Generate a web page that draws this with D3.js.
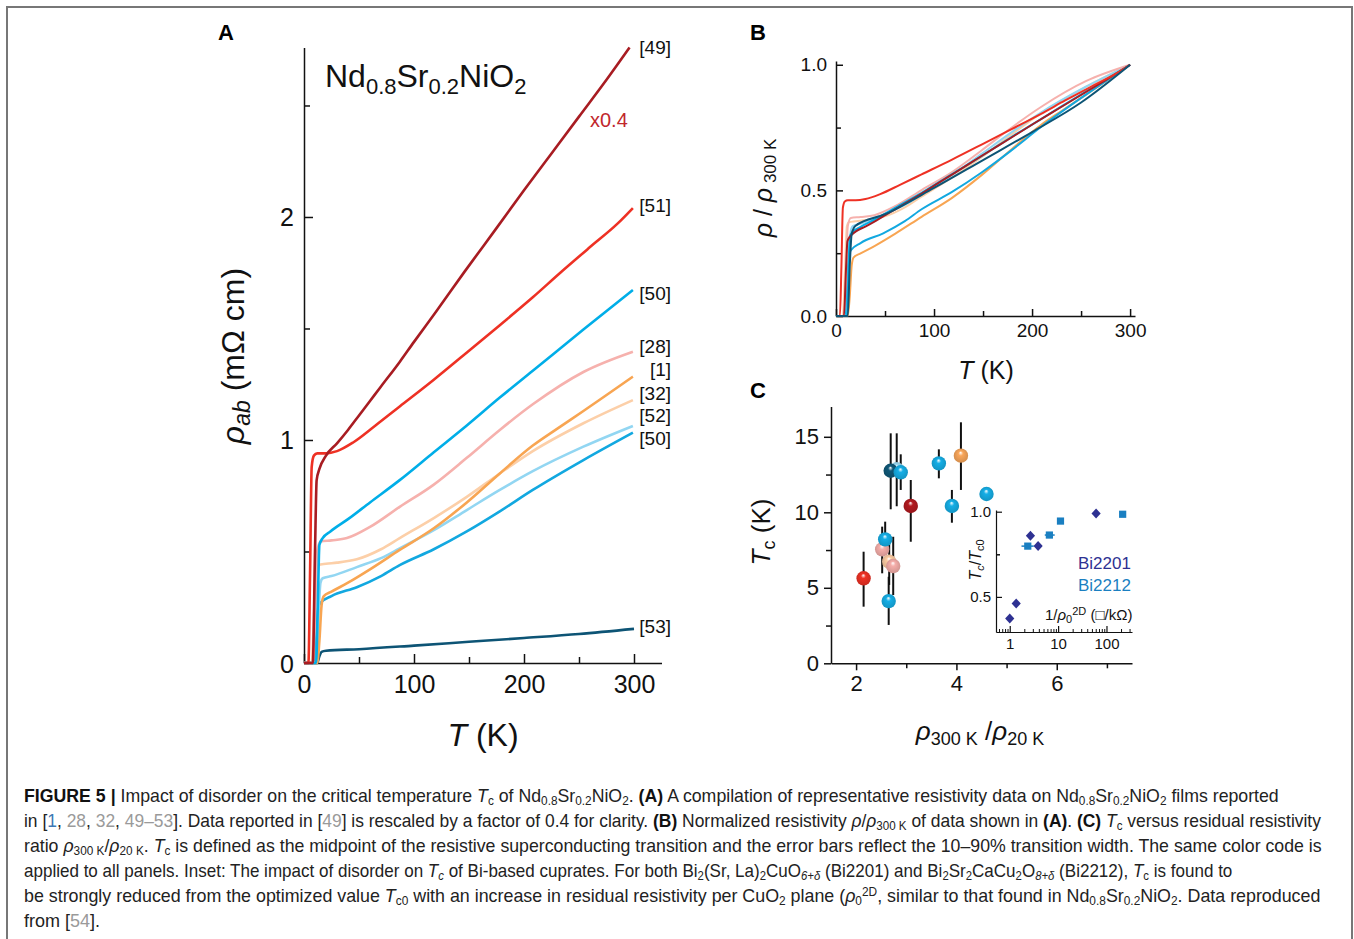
<!DOCTYPE html>
<html>
<head>
<meta charset="utf-8">
<script src="https://cdn.jsdelivr.net/npm/d3@7"></script>
<style>
  body { margin: 0; background: #fff; }
  svg { font-family: "Liberation Sans", Arial, Helvetica, sans-serif; }
</style>
</head>
<body>
<div id="container"></div>
<script>
// ---- panel A: rho_ab (mOhm cm) vs T (K) ----
let t49 = [0, 8, 10, 11.5, 14, 20, 30, 40, 50, 60, 70, 87, 100, 120, 146, 175, 200, 225, 250, 275, 296];
let r49 = [0, 0, 0.5, 0.82, 0.87, 0.93, 0.985, 1.045, 1.11, 1.175, 1.24, 1.35, 1.44, 1.575, 1.755, 1.95, 2.12, 2.285, 2.45, 2.615, 2.76];
let t51 = [0, 4, 5.5, 7, 9, 12, 20, 30, 45, 65, 87, 118, 150, 178, 208, 233, 260, 285, 299];
let r51 = [0, 0, 0.4, 0.88, 0.93, 0.94, 0.94, 0.95, 0.99, 1.065, 1.15, 1.27, 1.40, 1.515, 1.64, 1.75, 1.865, 1.97, 2.04];
let t50a = [0, 11, 12.5, 14, 17, 24, 40, 60, 87, 118, 148, 178, 208, 254, 299];
let r50a = [0, 0, 0.25, 0.53, 0.56, 0.59, 0.645, 0.72, 0.82, 0.945, 1.065, 1.19, 1.31, 1.495, 1.673];
let t28 = [0, 8, 10, 12, 15, 25, 39, 60, 87, 118, 148, 178, 208, 254, 299];
let r28 = [0, 0, 0.2, 0.5, 0.545, 0.55, 0.56, 0.61, 0.70, 0.80, 0.92, 1.045, 1.16, 1.305, 1.396];
let t1 = [0, 12, 14, 16, 18, 25, 40, 60, 87, 118, 148, 178, 208, 230, 254, 299];
let r1 = [0, 0, 0.1, 0.26, 0.30, 0.32, 0.36, 0.42, 0.507, 0.604, 0.72, 0.85, 0.975, 1.05, 1.13, 1.284];
let t32 = [0, 7, 9, 11, 13, 20, 30, 48, 70, 87, 118, 148, 178, 208, 254, 299];
let r32 = [0, 0, 0.2, 0.42, 0.44, 0.445, 0.45, 0.465, 0.51, 0.56, 0.65, 0.745, 0.85, 0.95, 1.075, 1.179];
let t52 = [0, 11, 13, 15, 17, 25, 48, 70, 87, 118, 148, 178, 208, 254, 299];
let r52 = [0, 0, 0.2, 0.36, 0.38, 0.39, 0.43, 0.47, 0.514, 0.596, 0.686, 0.776, 0.86, 0.97, 1.063];
let t50b = [0, 9, 11, 13, 15, 25, 48, 70, 87, 118, 148, 178, 208, 254, 299];
let r50b = [0, 0, 0.1, 0.25, 0.27, 0.30, 0.34, 0.39, 0.439, 0.51, 0.59, 0.68, 0.776, 0.91, 1.033];
let t53 = [0, 12, 14, 16, 20, 50, 100, 150, 200, 250, 300];
let r53 = [0, 0, 0.03, 0.05, 0.055, 0.062, 0.078, 0.095, 0.112, 0.13, 0.153];

let refs = ["[49]", "[51]", "[50]", "[28]", "[1]", "[32]", "[52]", "[50]", "[53]"];
let lineColors = ["#a81c22", "#ee3124", "#00aee8", "#f6b1ad", "#f8a552", "#fccfa8", "#92d6f2", "#12a8e0", "#0d5475"];

// ---- panel C: Tc vs rho300/rho20, with 10-90% bars ----
let cRatio = [2.15, 2.52, 2.58, 2.66, 2.74, 2.65, 2.81, 2.69, 2.89, 3.09, 3.65, 3.91, 4.09, 4.60];
let cTc    = [5.63, 7.55, 8.21, 6.73, 6.44, 4.12, 12.85, 12.75, 12.65, 10.42, 13.24, 10.42, 13.75, 11.21];
let cLow   = [3.75, 5.96, 7.28, 5.19, 4.52, 2.54, 10.4, 10.2, 11.48, 8.05, 12.25, 9.31, 11.48, null];
let cHigh  = [7.39, 9.05, 9.38, 8.28, 8.38, 5.73, 15.23, 15.23, 13.84, 12.14, 14.17, 11.48, 15.96, null];
let cKind  = ["red", "pink", "blue", "peach", "pink", "blue", "lightblue", "navy", "blue", "darkred", "blue", "blue", "orange", "blue"];
let dotColors = {darkred: "#b2191f", red: "#ee3124", blue: "#15aee6", pink: "#f5aeaa", orange: "#f9a65a", peach: "#fccca3", lightblue: "#9ad8f2", navy: "#0f5878"};

// ---- inset: Tc/Tc0 vs 1/rho0^2D ----
let bi2201X = [1.0, 1.36, 2.68, 3.86, 61];
let bi2201Y = [0.373, 0.461, 0.859, 0.798, 0.99];
let bi2212X = [2.36, 6.6, 11.2, 216];
let bi2212Y = [0.798, 0.863, 0.945, 0.985];
let bi2212Lo = [1.75, 5.3, null, null];
let bi2212Hi = [3.13, 8.5, null, null];

let svg = d3.select('#container')
    .append("svg")
    .attr("width", 1354)
    .attr("height", 939);

svg.append("rect")
    .attr("x", 7).attr("y", 7).attr("width", 1345).attr("height", 950)
    .attr("fill", "none").attr("stroke", "#777").attr("stroke-width", 2);

let seriesT = [t49, t51, t50a, t28, t1, t32, t52, t50b, t53];
let seriesR = [r49, r51, r50a, r28, r1, r32, r52, r50b, r53];
let series = refs.map((ref, i) => ({
    ref: ref, color: lineColors[i],
    pts: seriesT[i].map((t, j) => [t, seriesR[i][j]])
}));
let drawOrder = [8, 7, 6, 5, 4, 3, 2, 1, 0];

function styleAxis(g, size) {
    g.attr("font-size", size)
        .attr("font-family", '"Liberation Sans", Arial, sans-serif');
    g.selectAll("line,path").attr("stroke", "#111").attr("stroke-width", 1.5);
    g.selectAll("text").attr("fill", "#111");
}

function panelLetter(txt, x, y) {
    svg.append("text").attr("x", x).attr("y", y)
        .attr("font-size", 22).attr("font-weight", "bold").text(txt);
}

// ================= panel A =================
let xA = d3.scaleLinear().domain([0, 325]).range([304, 661.5]);
let yA = d3.scaleLinear().domain([0, 2.76]).range([663, 47.5]);

let gAx = svg.append("g").attr("transform", "translate(0,663)")
    .call(d3.axisBottom(xA).tickValues([0, 100, 200, 300]).tickFormat(d3.format("d")).tickSize(-9).tickSizeOuter(0).tickPadding(12));
styleAxis(gAx, 25);
let gAxm = svg.append("g").attr("transform", "translate(0,663)")
    .call(d3.axisBottom(xA).tickValues([50, 150, 250]).tickSize(-6).tickFormat(""));
styleAxis(gAxm, 10);
gAxm.select(".domain").remove();

let gAy = svg.append("g").attr("transform", "translate(304,0)")
    .call(d3.axisLeft(yA).tickValues([0, 1, 2]).tickFormat(d3.format("d")).tickSize(-9).tickSizeOuter(0).tickPadding(10));
styleAxis(gAy, 25);
gAy.selectAll("text").attr("dy", "0.36em");
let gAym = svg.append("g").attr("transform", "translate(304,0)")
    .call(d3.axisLeft(yA).tickValues([0.5, 1.5, 2.5]).tickSize(-6).tickFormat(""));
styleAxis(gAym, 10);
gAym.select(".domain").remove();

let lineA = d3.line().x(d => xA(d[0])).y(d => yA(d[1])).curve(d3.curveMonotoneX);
svg.append("g").selectAll("path")
    .data(drawOrder.map(i => series[i]))
    .enter()
    .append("path")
    .attr("fill", "none")
    .attr("stroke", d => d.color)
    .attr("stroke-width", 2.6)
    .attr("stroke-linejoin", "round")
    .attr("d", d => lineA(d.pts));

// reference labels, staggered by hand like the original
let labelY = [47, 205, 293, 346, 369, 393, 415, 438, 626];
svg.append("g").selectAll("text")
    .data(series)
    .enter()
    .append("text")
    .attr("x", 671)
    .attr("y", (d, i) => labelY[i])
    .attr("dy", "0.35em")
    .attr("text-anchor", "end")
    .attr("font-size", 19)
    .attr("fill", "#111")
    .text(d => d.ref);

svg.append("text").attr("x", 590).attr("y", 127).attr("font-size", 20).attr("fill", "#c1272d").text("x0.4");

let formula = svg.append("text").attr("x", 325).attr("y", 87).attr("font-size", 32).attr("fill", "#111");
formula.append("tspan").text("Nd");
formula.append("tspan").attr("font-size", 22).attr("baseline-shift", "-30%").text("0.8");
formula.append("tspan").text("Sr");
formula.append("tspan").attr("font-size", 22).attr("baseline-shift", "-30%").text("0.2");
formula.append("tspan").text("NiO");
formula.append("tspan").attr("font-size", 22).attr("baseline-shift", "-30%").text("2");

let xlabA = svg.append("text").attr("x", 483).attr("y", 746).attr("text-anchor", "middle").attr("font-size", 32).attr("fill", "#111");
xlabA.append("tspan").attr("font-style", "italic").text("T");
xlabA.append("tspan").text(" (K)");

let ylabA = svg.append("text").attr("transform", "translate(244,356) rotate(-90)")
    .attr("text-anchor", "middle").attr("font-size", 32).attr("fill", "#111");
ylabA.append("tspan").attr("font-style", "italic").text("ρ");
ylabA.append("tspan").attr("font-style", "italic").attr("font-size", 23).attr("baseline-shift", "-25%").text("ab");
ylabA.append("tspan").text(" (mΩ cm)");

panelLetter("A", 218, 40);

// ================= panel B =================
let xB = d3.scaleLinear().domain([0, 305]).range([836, 1135]);
let yB = d3.scaleLinear().domain([0, 1.015]).range([316, 61]);

let gBx = svg.append("g").attr("transform", "translate(0,316)")
    .call(d3.axisBottom(xB).tickValues([0, 100, 200, 300]).tickFormat(d3.format("d")).tickSize(-7).tickSizeOuter(0).tickPadding(8));
styleAxis(gBx, 19);
let gBxm = svg.append("g").attr("transform", "translate(0,316)")
    .call(d3.axisBottom(xB).tickValues([50, 150, 250]).tickSize(-5).tickFormat(""));
styleAxis(gBxm, 10);
gBxm.select(".domain").remove();

let gBy = svg.append("g").attr("transform", "translate(836,0)")
    .call(d3.axisLeft(yB).tickValues([0, 0.5, 1]).tickFormat(d3.format(".1f")).tickSize(-7).tickSizeOuter(0).tickPadding(9));
styleAxis(gBy, 19);
let gBym = svg.append("g").attr("transform", "translate(836,0)")
    .call(d3.axisLeft(yB).tickValues([0.25, 0.75]).tickSize(-5).tickFormat(""));
styleAxis(gBym, 10);
gBym.select(".domain").remove();

// normalised by each curve's own 300 K value
let lineB = d3.line().x(d => xB(d[0])).y(d => yB(d[1])).curve(d3.curveMonotoneX);
let bOrder = [5, 4, 7, 6, 3, 2, 0, 1, 8];
svg.append("g").selectAll("path")
    .data(bOrder.map(i => series[i]))
    .enter()
    .append("path")
    .attr("fill", "none")
    .attr("stroke", d => d.color)
    .attr("stroke-width", 2)
    .attr("d", d => {
        let last = d.pts[d.pts.length - 1];
        return lineB(d.pts.map(p => [p[0] * 300 / last[0], p[1] / last[1]]));
    });

let xlabB = svg.append("text").attr("x", 986).attr("y", 379).attr("text-anchor", "middle").attr("font-size", 25).attr("fill", "#111");
xlabB.append("tspan").attr("font-style", "italic").text("T");
xlabB.append("tspan").text(" (K)");

let ylabB = svg.append("text").attr("transform", "translate(772,188) rotate(-90)")
    .attr("text-anchor", "middle").attr("font-size", 25).attr("fill", "#111");
ylabB.append("tspan").attr("font-style", "italic").text("ρ");
ylabB.append("tspan").text(" / ");
ylabB.append("tspan").attr("font-style", "italic").text("ρ");
ylabB.append("tspan").attr("font-size", 17).attr("baseline-shift", "-25%").text(" 300 K");

panelLetter("B", 750, 40);

// ================= panel C =================
let xC = d3.scaleLinear().domain([1.5, 7.5]).range([831, 1132]);
let yC = d3.scaleLinear().domain([0, 17]).range([663.3, 406.6]);

let gCx = svg.append("g").attr("transform", "translate(0,663.3)")
    .call(d3.axisBottom(xC).tickValues([2, 4, 6]).tickFormat(d3.format("d")).tickSize(7).tickSizeOuter(0).tickPadding(5));
styleAxis(gCx, 22);
let gCxm = svg.append("g").attr("transform", "translate(0,663.3)")
    .call(d3.axisBottom(xC).tickValues([3, 5, 7]).tickSize(5).tickFormat(""));
styleAxis(gCxm, 10);
gCxm.select(".domain").remove();

let gCy = svg.append("g").attr("transform", "translate(831,0)")
    .call(d3.axisLeft(yC).tickValues([0, 5, 10, 15]).tickFormat(d3.format("d")).tickSize(7).tickSizeOuter(0).tickPadding(5));
styleAxis(gCy, 22);
let gCym = svg.append("g").attr("transform", "translate(831,0)")
    .call(d3.axisLeft(yC).tickValues([2.5, 7.5, 12.5]).tickSize(5).tickFormat(""));
styleAxis(gCym, 10);
gCym.select(".domain").remove();

// shaded spheres
let defs = svg.append("defs");
Object.keys(dotColors).forEach(k => {
    let c = d3.color(dotColors[k]);
    let grad = defs.append("radialGradient").attr("id", "g-" + k)
        .attr("cx", "50%").attr("cy", "50%").attr("r", "55%")
        .attr("fx", "48%").attr("fy", "28%");
    grad.append("stop").attr("offset", "0%").attr("stop-color", "#ffffff");
    grad.append("stop").attr("offset", "30%").attr("stop-color", c.formatHex());
    grad.append("stop").attr("offset", "100%").attr("stop-color", c.darker(0.5).formatHex());
});

let cPts = cRatio.map((x, i) => ({x: x, y: cTc[i], lo: cLow[i], hi: cHigh[i], k: cKind[i]}));
svg.append("g").selectAll("line")
    .data(cPts.filter(d => d.lo !== null))
    .enter()
    .append("line")
    .attr("x1", d => xC(d.x)).attr("x2", d => xC(d.x))
    .attr("y1", d => yC(d.lo)).attr("y2", d => yC(d.hi))
    .attr("stroke", "#111").attr("stroke-width", 2);
svg.append("g").selectAll("circle")
    .data(cPts)
    .enter()
    .append("circle")
    .attr("cx", d => xC(d.x))
    .attr("cy", d => yC(d.y))
    .attr("r", 7.2)
    .attr("fill", d => "url(#g-" + d.k + ")");

let xlabC = svg.append("text").attr("x", 980).attr("y", 740).attr("text-anchor", "middle").attr("font-size", 26).attr("fill", "#111");
xlabC.append("tspan").attr("font-style", "italic").text("ρ");
xlabC.append("tspan").attr("font-size", 18).attr("baseline-shift", "-28%").text("300 K");
xlabC.append("tspan").text(" /");
xlabC.append("tspan").attr("font-style", "italic").text("ρ");
xlabC.append("tspan").attr("font-size", 18).attr("baseline-shift", "-28%").text("20 K");

let ylabC = svg.append("text").attr("transform", "translate(770,532) rotate(-90)")
    .attr("text-anchor", "middle").attr("font-size", 26).attr("fill", "#111");
ylabC.append("tspan").attr("font-style", "italic").text("T");
ylabC.append("tspan").attr("font-size", 18).attr("baseline-shift", "-28%").text("c");
ylabC.append("tspan").text(" (K)");

panelLetter("C", 750, 398);

// ---- inset ----
let xI = d3.scaleLog().domain([0.52, 337]).range([996, 1132]);
let yI = d3.scaleLinear().domain([0.294, 1.01]).range([632, 510]);

let gIx = svg.append("g").attr("transform", "translate(0,632)")
    .call(d3.axisBottom(xI).tickValues([1, 10, 100]).tickFormat(d3.format("d")).tickSize(-6).tickSizeOuter(0).tickPadding(6));
styleAxis(gIx, 15);
let minorLog = [0.6, 0.7, 0.8, 0.9, 2, 3, 4, 5, 6, 7, 8, 9, 20, 30, 40, 50, 60, 70, 80, 90, 200, 300];
let gIxm = svg.append("g").attr("transform", "translate(0,632)")
    .call(d3.axisBottom(xI).tickValues(minorLog).tickSize(-3).tickFormat(""));
styleAxis(gIxm, 10);
gIxm.select(".domain").remove();
gIx.selectAll("line,path").attr("stroke-width", 1.2);
gIxm.selectAll("line").attr("stroke-width", 1);

let gIy = svg.append("g").attr("transform", "translate(996,0)")
    .call(d3.axisLeft(yI).tickValues([0.5, 1]).tickFormat(d3.format(".1f")).tickSize(-6).tickSizeOuter(0).tickPadding(5));
styleAxis(gIy, 15);
let gIym = svg.append("g").attr("transform", "translate(996,0)")
    .call(d3.axisLeft(yI).tickValues([0.75]).tickSize(-4).tickFormat(""));
styleAxis(gIym, 10);
gIym.select(".domain").remove();
gIy.selectAll("line,path").attr("stroke-width", 1.2);

// horizontal bars on Bi2212
svg.append("g").selectAll("line")
    .data(bi2212X.map((x, i) => ({x: x, y: bi2212Y[i], lo: bi2212Lo[i], hi: bi2212Hi[i]})).filter(d => d.lo !== null))
    .enter()
    .append("line")
    .attr("x1", d => xI(d.lo)).attr("x2", d => xI(d.hi))
    .attr("y1", d => yI(d.y)).attr("y2", d => yI(d.y))
    .attr("stroke", "#1a7fc1").attr("stroke-width", 1.5);
svg.append("g").selectAll("rect")
    .data(bi2212X.map((x, i) => [x, bi2212Y[i]]))
    .enter()
    .append("rect")
    .attr("x", d => xI(d[0]) - 3.6).attr("y", d => yI(d[1]) - 3.6)
    .attr("width", 7.2).attr("height", 7.2)
    .attr("fill", "#1a7fc1");
svg.append("g").selectAll("path")
    .data(bi2201X.map((x, i) => [x, bi2201Y[i]]))
    .enter()
    .append("path")
    .attr("transform", d => "translate(" + xI(d[0]) + "," + yI(d[1]) + ")")
    .attr("d", "M0,-5 L4.6,0 L0,5 L-4.6,0 Z")
    .attr("fill", "#2e3192");

svg.append("text").attr("x", 1078).attr("y", 569).attr("font-size", 17).attr("fill", "#2e3192").text("Bi2201");
svg.append("text").attr("x", 1078).attr("y", 591).attr("font-size", 17).attr("fill", "#1a7fc1").text("Bi2212");

let xlabI = svg.append("text").attr("x", 1045).attr("y", 620).attr("font-size", 15).attr("fill", "#111");
xlabI.append("tspan").text("1/");
xlabI.append("tspan").attr("font-style", "italic").text("ρ");
xlabI.append("tspan").attr("font-size", 11).attr("baseline-shift", "-30%").text("0");
xlabI.append("tspan").attr("font-size", 11).attr("baseline-shift", "50%").text("2D");
xlabI.append("tspan").text(" (□/kΩ)");

let ylabI = svg.append("text").attr("transform", "translate(981,560) rotate(-90)")
    .attr("text-anchor", "middle").attr("font-size", 16).attr("fill", "#111");
ylabI.append("tspan").attr("font-style", "italic").text("T");
ylabI.append("tspan").attr("font-style", "italic").attr("font-size", 11).attr("baseline-shift", "-30%").text("c");
ylabI.append("tspan").text("/");
ylabI.append("tspan").attr("font-style", "italic").text("T");
ylabI.append("tspan").attr("font-size", 11).attr("baseline-shift", "-30%").text("c0");

// ================= caption =================
let captionLines = [
    [["FIGURE 5 | ", "b"], ["Impact of disorder on the critical temperature "], ["T", "i"], ["c", "sub"], [" of Nd"], ["0.8", "sub"], ["Sr"], ["0.2", "sub"], ["NiO"], ["2", "sub"], [". "], ["(A)", "b"], [" A compilation of representative resistivity data on Nd"], ["0.8", "sub"], ["Sr"], ["0.2", "sub"], ["NiO"], ["2", "sub"], [" films reported"]],
    [["in ["], ["1", "blue"], [", "], ["28", "gray"], [", "], ["32", "gray"], [", "], ["49–53", "gray"], ["]. Data reported in ["], ["49", "gray"], ["] is rescaled by a factor of 0.4 for clarity. "], ["(B)", "b"], [" Normalized resistivity "], ["ρ", "i"], ["/"], ["ρ", "i"], ["300 K", "sub"], [" of data shown in "], ["(A)", "b"], [". "], ["(C)", "b"], [" "], ["T", "i"], ["c", "sub"], [" versus residual resistivity"]],
    [["ratio "], ["ρ", "i"], ["300 K", "sub"], ["/"], ["ρ", "i"], ["20 K", "sub"], [". "], ["T", "i"], ["c", "sub"], [" is defined as the midpoint of the resistive superconducting transition and the error bars reflect the 10–90% transition width. The same color code is"]],
    [["applied to all panels. Inset: The impact of disorder on "], ["T", "i"], ["c", "isub"], [" of Bi-based cuprates. For both Bi"], ["2", "sub"], ["(Sr, La)"], ["2", "sub"], ["CuO"], ["6+δ", "isub"], [" (Bi2201) and Bi"], ["2", "sub"], ["Sr"], ["2", "sub"], ["CaCu"], ["2", "sub"], ["O"], ["8+δ", "isub"], [" (Bi2212), "], ["T", "i"], ["c", "sub"], [" is found to"]],
    [["be strongly reduced from the optimized value "], ["T", "i"], ["c0", "sub"], [" with an increase in residual resistivity per CuO"], ["2", "sub"], [" plane ("], ["ρ", "i"], ["0", "sub"], ["2D", "sup"], [", similar to that found in Nd"], ["0.8", "sub"], ["Sr"], ["0.2", "sub"], ["NiO"], ["2", "sub"], [". Data reproduced"]],
    [["from ["], ["54", "gray"], ["]."]]
];
let captionWidths = [1255, 1298, 1298, 1209, 1298, null];

let cap = svg.append("g")
    .attr("font-family", '"Liberation Sans Narrow", "Arial Narrow", "Liberation Sans", Arial, sans-serif')
    .attr("font-size", 18)
    .attr("fill", "#222");
captionLines.forEach((segs, li) => {
    let t = cap.append("text").attr("x", 0).attr("y", 0);
    segs.forEach(s => {
        let sp = t.append("tspan").text(s[0]);
        let st = s[1];
        if (st === "b") sp.attr("font-weight", "bold").attr("fill", "#111");
        if (st === "i") sp.attr("font-style", "italic");
        if (st === "sub") sp.attr("font-size", 12).attr("baseline-shift", "-25%");
        if (st === "isub") sp.attr("font-size", 12).attr("font-style", "italic").attr("baseline-shift", "-25%");
        if (st === "sup") sp.attr("font-size", 12).attr("baseline-shift", "50%");
        if (st === "gray") sp.attr("fill", "#9a9a9a");
        if (st === "blue") sp.attr("fill", "#3d78b4");
    });
    // squeeze each line to the width it has in the original (condensed face)
    let sx = captionWidths[li] ? captionWidths[li] / t.node().getBBox().width : 1;
    t.attr("transform", "translate(24," + (802 + li * 25) + ") scale(" + sx + ",1)");
});
</script>
</body>
</html>
